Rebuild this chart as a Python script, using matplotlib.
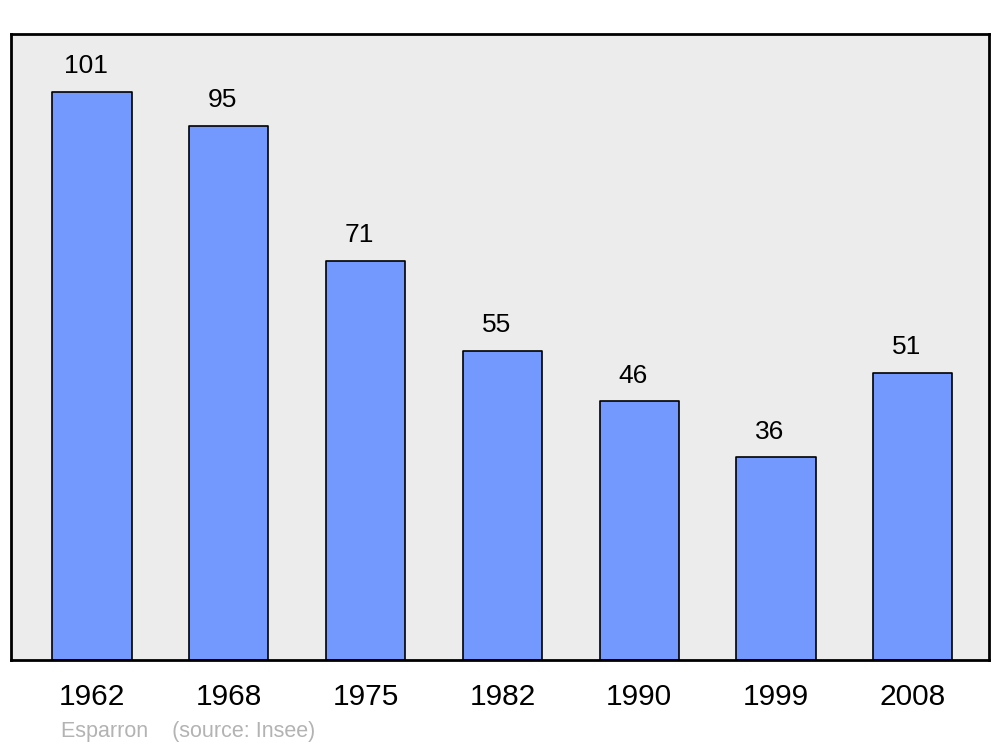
import matplotlib.pyplot as plt

years = ['1962', '1968', '1975', '1982', '1990', '1999', '2008']
population = [101, 95, 71, 55, 46, 36, 51]

plt.rcParams['font.family'] = ['Liberation Sans', 'DejaVu Sans']

fig = plt.figure(figsize=(10, 7.47), dpi=100)
ax = fig.add_axes([0.011, 0.1165, 0.978, 0.838])
ax.set_facecolor('#ececec')

x = list(range(len(years)))
bars = ax.bar(x, population, width=0.58, color='#7399ff', edgecolor='black',
              linewidth=1.2, zorder=2)
for b in bars:
    b.set_joinstyle('round')

for xi, v in zip(x, population):
    ax.annotate(str(v), (xi, v), xytext=(-4.5, 13.5), textcoords='offset points',
                ha='center', va='baseline', fontsize=19, color='black')

ax.set_xlim(-0.592, 6.557)
ax.set_ylim(0, 111.3)
ax.set_xticks(x)
ax.set_xticklabels(years, fontsize=21.5)
ax.tick_params(axis='x', length=0, pad=16.5)
ax.set_yticks([])
for s in ax.spines.values():
    s.set_linewidth(2)
    s.set_joinstyle('round')

fig.text(0.061, 0.021, 'Esparron    (source: Insee)', fontsize=15.5, color='#b3b3b3',
         ha='left', va='center')

fig.savefig('out.png', dpi=100)
